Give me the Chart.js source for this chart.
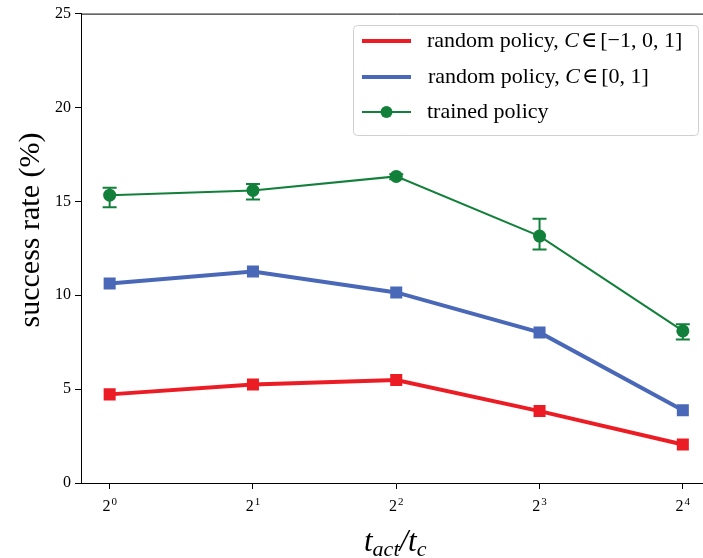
<!DOCTYPE html>
<html>
<head>
<meta charset="utf-8">
<script src="https://cdn.jsdelivr.net/npm/chart.js@4"></script>
<style>
html, body { margin: 0; padding: 0; background: #fff; overflow: hidden; }
#wrap { width: 720px; height: 558px; }
</style>
</head>
<body>
<div id="wrap"><canvas id="grafico"></canvas></div>
<script>
// DADOS
var expoentes = [0, 1, 2, 3, 4];
var rotulosX = ['0', '1', '2', '3', '4'];   // expoentes de 2 no eixo x
var rotulosY = [0, 5, 10, 15, 20, 25];
var aleatorioTres = [4.72, 5.25, 5.48, 3.83, 2.05];
var aleatorioDois = [10.62, 11.26, 10.15, 8.02, 3.87];
var treinado = [15.33, 15.58, 16.33, 13.15, 8.10];
var treinadoMin = [14.68, 15.10, 16.18, 12.43, 7.64];
var treinadoMax = [15.73, 15.92, 16.45, 14.08, 8.46];
var legendas = ['random policy, C∈[−1, 0, 1]', 'random policy, C∈[0, 1]', 'trained policy'];

var serif = '"Liberation Serif", "DejaVu Serif", serif';

function pontos(valores) {
    return expoentes.map(function (e, i) { return { x: e, y: valores[i] }; });
}

// FUNCOES
var barrasErro = {
    id: 'barrasErro',
    afterDatasetsDraw: function (chart) {
        var ctx = chart.ctx;
        var sx = chart.scales.x, sy = chart.scales.y;
        ctx.save();
        ctx.strokeStyle = '#12803a';
        ctx.lineWidth = 2;
        expoentes.forEach(function (e, i) {
            var px = sx.getPixelForValue(e);
            var y1 = sy.getPixelForValue(treinadoMin[i]);
            var y2 = sy.getPixelForValue(treinadoMax[i]);
            ctx.beginPath();
            ctx.moveTo(px, y1); ctx.lineTo(px, y2);
            ctx.moveTo(px - 7, y1); ctx.lineTo(px + 7, y1);
            ctx.moveTo(px - 7, y2); ctx.lineTo(px + 7, y2);
            ctx.stroke();
        });
        ctx.restore();
    }
};

var moldura = {
    id: 'moldura',
    afterDraw: function (chart) {
        var ctx = chart.ctx;
        var a = chart.chartArea;
        var sx = chart.scales.x;
        ctx.save();
        ctx.strokeStyle = '#000';
        ctx.lineWidth = 1;
        ctx.beginPath();
        ctx.moveTo(a.left, a.top + 0.5);
        ctx.lineTo(a.right, a.top + 0.5);
        ctx.stroke();

        // rotulos do eixo x com expoente
        ctx.fillStyle = '#000';
        ctx.textBaseline = 'alphabetic';
        expoentes.forEach(function (e, i) {
            var px = sx.getPixelForValue(e);
            ctx.font = '16px ' + serif;
            var w1 = ctx.measureText('2').width;
            ctx.font = '11px ' + serif;
            var w2 = ctx.measureText(rotulosX[i]).width;
            var x0 = px - (w1 + w2 + 1) / 2;
            ctx.font = '16px ' + serif;
            ctx.fillText('2', x0, 511);
            ctx.font = '11px ' + serif;
            ctx.fillText(rotulosX[i], x0 + w1 + 1, 505);
        });

        // titulo do eixo y
        ctx.font = '30px ' + serif;
        ctx.textAlign = 'center';
        ctx.textBaseline = 'middle';
        ctx.translate(31, 230);
        ctx.rotate(-Math.PI / 2);
        ctx.fillText('success rate (%)', 0, 0);
        ctx.restore();

        // titulo do eixo x: t_act / t_c
        ctx.save();
        ctx.fillStyle = '#000';
        ctx.textBaseline = 'alphabetic';
        var x = 364, base = 551;
        ctx.font = 'italic 31px ' + serif;
        ctx.fillText('t', x, base); x += ctx.measureText('t').width;
        ctx.font = 'italic 22px ' + serif;
        ctx.fillText('act', x, base + 5); x += ctx.measureText('act').width;
        ctx.font = 'italic 31px ' + serif;
        ctx.fillText('/t', x, base); x += ctx.measureText('/t').width;
        ctx.font = 'italic 22px ' + serif;
        ctx.fillText('c', x, base + 5);
        ctx.restore();

        // legenda
        ctx.save();
        var bx = 353.5, by = 25.5, bw = 345, bh = 110, r = 4;
        ctx.fillStyle = 'rgba(255,255,255,0.85)';
        ctx.strokeStyle = '#d0d0d0';
        ctx.lineWidth = 1;
        ctx.beginPath();
        ctx.moveTo(bx + r, by);
        ctx.arcTo(bx + bw, by, bx + bw, by + bh, r);
        ctx.arcTo(bx + bw, by + bh, bx, by + bh, r);
        ctx.arcTo(bx, by + bh, bx, by, r);
        ctx.arcTo(bx, by, bx + bw, by, r);
        ctx.closePath();
        ctx.fill();
        ctx.stroke();

        var linhas = [41, 77, 112];
        chart.data.datasets.forEach(function (ds, i) {
            var ly = linhas[i];
            ctx.strokeStyle = ds.borderColor;
            ctx.lineWidth = ds.borderWidth;
            ctx.beginPath();
            ctx.moveTo(362, ly); ctx.lineTo(411, ly);
            ctx.stroke();
            if (i === 2) {
                ctx.fillStyle = ds.borderColor;
                ctx.beginPath();
                ctx.arc(386.5, ly, 6, 0, Math.PI * 2);
                ctx.fill();
            }
            ctx.fillStyle = '#000';
            ctx.textBaseline = 'middle';
            var tx = i === 1 ? 428 : 427;
            var partes = legendas[i].split('C∈');
            ctx.font = '22px ' + serif;
            ctx.fillText(partes[0], tx, ly); tx += ctx.measureText(partes[0]).width;
            if (partes.length > 1) {
                ctx.font = 'italic 22px ' + serif;
                ctx.fillText('C', tx, ly); tx += ctx.measureText('C').width + 2;
                ctx.font = '22px ' + serif;
                ctx.fillText('∈', tx, ly); tx += ctx.measureText('∈').width + 3;
                ctx.fillText(partes[1], tx, ly);
            }
        });
        ctx.restore();
    }
};

var ctx = document.getElementById('grafico').getContext('2d');
new Chart(ctx, {
    type: 'line',
    data: {
        datasets: [{
            label: legendas[0],
            data: pontos(aleatorioTres),
            borderColor: '#ec1c24',
            backgroundColor: '#ec1c24',
            borderWidth: 4,
            pointStyle: 'rect',
            pointRadius: 8.5,
            pointBorderWidth: 0
        }, {
            label: legendas[1],
            data: pontos(aleatorioDois),
            borderColor: '#4a68b8',
            backgroundColor: '#4a68b8',
            borderWidth: 4,
            pointStyle: 'rect',
            pointRadius: 8.5,
            pointBorderWidth: 0
        }, {
            label: legendas[2],
            data: pontos(treinado),
            borderColor: '#12803a',
            backgroundColor: '#12803a',
            borderWidth: 2,
            pointStyle: 'circle',
            pointRadius: 6.5,
            pointBorderWidth: 0
        }]
    },
    options: {
        responsive: true,
        maintainAspectRatio: false,
        animation: false,
        layout: { padding: { left: 0, top: 13, right: 8, bottom: 0 } },
        plugins: { legend: { display: false }, tooltip: { enabled: false } },
        scales: {
            x: {
                type: 'linear',
                min: -0.2,
                max: 4.2,
                afterBuildTicks: function (scale) {
                    scale.ticks = expoentes.map(function (v) { return { value: v }; });
                },
                afterFit: function (scale) { scale.height = 75; },
                ticks: { display: false },
                grid: { drawOnChartArea: false, color: '#000', tickLength: 6 },
                border: { color: '#000', width: 1 }
            },
            y: {
                min: 0,
                max: 25,
                afterBuildTicks: function (scale) {
                    scale.ticks = rotulosY.map(function (v) { return { value: v }; });
                },
                afterFit: function (scale) { scale.width = 81; },
                ticks: {
                    color: '#000',
                    font: { family: serif, size: 16 },
                    padding: 4
                },
                grid: { drawOnChartArea: false, color: '#000', tickLength: 6 },
                border: { color: '#000', width: 1 }
            }
        }
    },
    plugins: [barrasErro, moldura]
});
</script>
</body>
</html>
